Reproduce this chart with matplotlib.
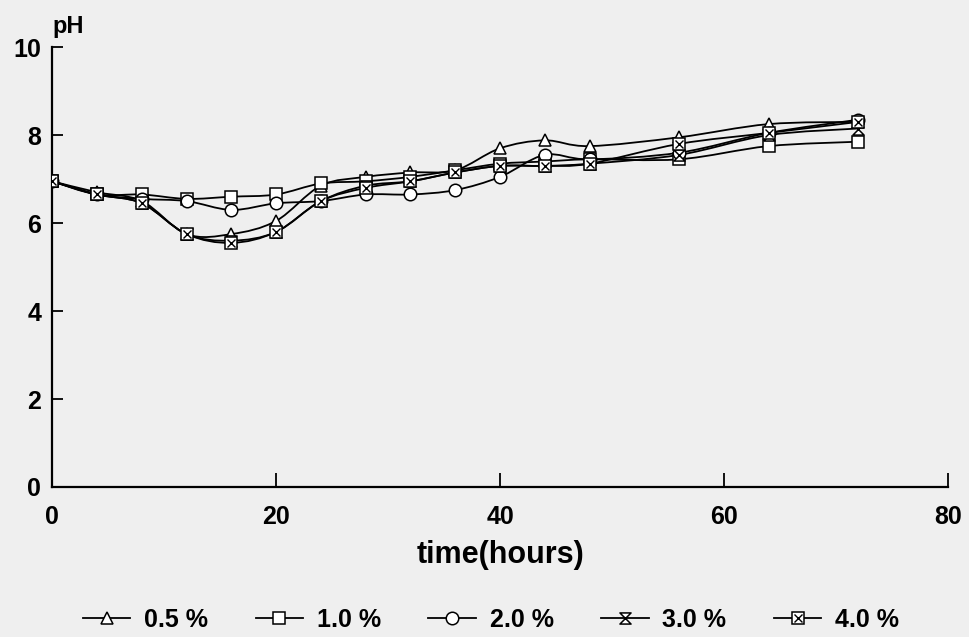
import numpy as np
import matplotlib
matplotlib.use("Agg")
import matplotlib.pyplot as plt
from matplotlib.path import Path
from matplotlib.patches import PathPatch
from matplotlib.legend_handler import HandlerTuple

# sampling times (hours) and pH readings for each concentration
hours = [0, 4, 8, 12, 16, 20, 24, 28, 32, 36, 40, 44, 48, 56, 64, 72]
ph_05 = [6.95, 6.7, 6.5, 5.75, 5.75, 6.05, 6.85, 7.05, 7.15, 7.2, 7.7, 7.88, 7.75, 7.95, 8.25, 8.3]
ph_10 = [6.95, 6.65, 6.65, 6.55, 6.6, 6.65, 6.9, 6.95, 7.05, 7.2, 7.35, 7.4, 7.45, 7.45, 7.75, 7.85]
ph_20 = [6.95, 6.65, 6.55, 6.5, 6.3, 6.45, 6.5, 6.65, 6.65, 6.75, 7.05, 7.55, 7.45, 7.6, 8.05, 8.35]
ph_30 = [6.95, 6.65, 6.45, 5.75, 5.6, 5.8, 6.5, 6.85, 6.95, 7.15, 7.3, 7.3, 7.35, 7.55, 8.0, 8.15]
ph_40 = [6.95, 6.65, 6.45, 5.75, 5.55, 5.8, 6.5, 6.8, 6.95, 7.15, 7.3, 7.3, 7.35, 7.8, 8.05, 8.3]
labels = ["0.5 %", "1.0 %", "2.0 %", "3.0 %", "4.0 %"]

plt.rcParams["font.family"] = ["Liberation Sans", "DejaVu Sans"]
plt.rcParams["font.weight"] = "bold"

BG = "#efefef"

# hourglass marker: two triangles tip to tip
hourglass = Path([(-1, 1), (1, 1), (-1, -1), (1, -1), (-1, 1)],
                 [Path.MOVETO, Path.LINETO, Path.LINETO, Path.LINETO, Path.CLOSEPOLY])


def smooth_path(x, y):
    # Catmull-Rom through the readings, drawn as cubic Bezier segments
    pts = np.column_stack([x, y]).astype(float)
    ext = np.vstack([pts[0], pts, pts[-1]])
    verts = [pts[0]]
    codes = [Path.MOVETO]
    for i in range(len(pts) - 1):
        p0, p1, p2, p3 = ext[i], ext[i + 1], ext[i + 2], ext[i + 3]
        c1 = p1 + (p2 - p0) / 6.0
        c2 = p2 - (p3 - p1) / 6.0
        verts += [c1, c2, p2]
        codes += [Path.CURVE4] * 3
    return Path(verts, codes)


fig = plt.figure(figsize=(9.69, 6.37), dpi=100, facecolor=BG)
ax = fig.add_axes([0.054, 0.2355, 0.924, 0.6905])
ax.set_facecolor(BG)

series = [ph_05, ph_10, ph_20, ph_30, ph_40]
mk = dict(markersize=9, markerfacecolor="white", markeredgecolor="black",
          markeredgewidth=1.1, linestyle="none", color="black")

for vals in series:
    ax.add_patch(PathPatch(smooth_path(hours, vals), facecolor="none",
                           edgecolor="black", linewidth=1.3, zorder=2))

handles = []
for k, vals in enumerate(series):
    if k == 0:
        h = (ax.plot(hours, vals, marker="^", zorder=3, **mk)[0],)
    elif k == 1:
        h = (ax.plot(hours, vals, marker="s", zorder=3, **{**mk, "markersize": 8.5})[0],)
    elif k == 2:
        h = (ax.plot(hours, vals, marker="o", zorder=3, **mk)[0],)
    elif k == 3:
        h = (ax.plot(hours, vals, marker=hourglass, zorder=3, **{**mk, "markersize": 8})[0],)
    else:
        h1 = ax.plot(hours, vals, marker="s", zorder=3, **{**mk, "markersize": 8.5})[0]
        h2 = ax.plot(hours, vals, marker="x", zorder=4, linestyle="none", color="black",
                     markersize=6, markeredgewidth=1.0)[0]
        h = (h1, h2)
    handles.append(h)

# legend entries: a line running through the marker
leg_handles = []
for h in handles:
    line = plt.Line2D([], [], color="black", linewidth=1.3)
    leg_handles.append((line,) + h)

ax.legend(leg_handles, labels, handler_map={tuple: HandlerTuple(ndivide=1, pad=0)},
          loc="upper center", bbox_to_anchor=(0.49, -0.252), ncol=5, frameon=False,
          fontsize=18, handlelength=1.9, columnspacing=1.9, handletextpad=0.55,
          borderaxespad=0)

ax.set_xlim(0, 80)
ax.set_ylim(0, 10)
ax.set_xticks([0, 20, 40, 60, 80])
ax.set_yticks([0, 2, 4, 6, 8, 10])
for s in ["top", "right"]:
    ax.spines[s].set_visible(False)
for s in ["left", "bottom"]:
    ax.spines[s].set_linewidth(1.6)
ax.tick_params(axis="x", direction="in", length=10, width=1.3, pad=13, labelsize=18)
ax.tick_params(axis="y", direction="in", length=8, width=1.3, pad=8, labelsize=18)

ax.set_xlabel("time(hours)", fontsize=22, fontweight="bold", labelpad=8)
ax.text(0.0, 1.02, "pH", transform=ax.transAxes, fontsize=17, fontweight="bold",
        ha="left", va="bottom")

fig.savefig("out.png", dpi=100, facecolor=BG)
